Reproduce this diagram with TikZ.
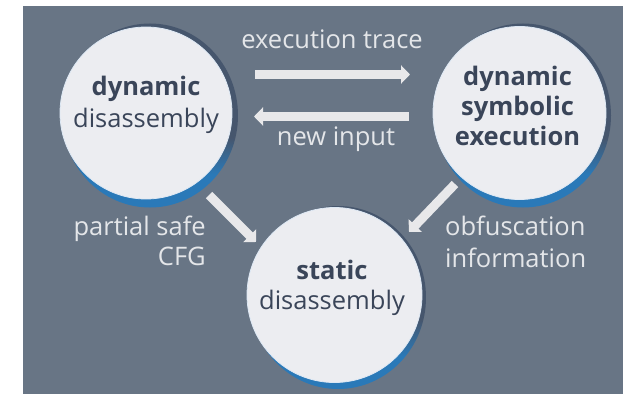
\documentclass[tikz,border=0pt]{standalone}
\usepackage{fontspec}
\setmainfont{Open Sans}
\usetikzlibrary{arrows.meta}
\definecolor{bg}{HTML}{687585}
\definecolor{disc}{HTML}{ECEDF1}
\definecolor{rim}{HTML}{DDE8F4}
\definecolor{ink}{HTML}{3A4559}
\definecolor{lbl}{HTML}{E4E6E9}
\definecolor{arr}{HTML}{E8E8EA}
\definecolor{sdark}{HTML}{46566D}
\definecolor{sblue}{HTML}{2A79B8}
\pgfdeclareverticalshading{shadowshade}{100bp}{color(0bp)=(sblue); color(34bp)=(sblue); color(44bp)=(sdark); color(100bp)=(sdark)}
\tikzset{
  disk/.style={circle, fill=disc, draw=rim, line width=0.8pt, minimum size=#1, inner sep=0pt},
  intext/.style={text=ink, font=\fontsize{25.5}{30}\selectfont, anchor=base, inner sep=0pt},
  boldtext/.style={intext, font=\fontsize{25.5}{30}\selectfont\bfseries},
  labeltext/.style={text=lbl, font=\fontsize{25.5}{30}\selectfont, inner sep=0pt},
  flow/.style={draw=arr, line width=9pt, -{Triangle[width=18pt,length=9pt]}},
  shadowdisk/.style={shading=shadowshade}
}
\begin{document}
\begin{tikzpicture}[x=1pt,y=1pt]
\useasboundingbox (0,0) rectangle (623,394);
\fill[white] (0,0) rectangle (623,394);
\fill[bg] (23,0) rectangle (623,387.5);

% shadows
\shade[shadowdisk] (150,278.5) ellipse [x radius=88, y radius=92];
\shade[shadowdisk] (523,278.5) ellipse [x radius=88, y radius=92];
\shade[shadowdisk] (338,96.5) ellipse [x radius=88, y radius=91.5];

% circles
\node[disk=172pt] (dd) at (146,281) {};
\node[disk=173pt] (dse) at (519.5,281) {};
\node[disk=175pt] (sd) at (334.5,99) {};

% circle texts
\node[boldtext] (dd1) at (146,298) {dynamic};
\node[intext] (dd2) at (146,266) {disassembly};
\node[boldtext] (dse1) at (517.5,308) {dynamic};
\node[boldtext] (dse2) at (517.5,278) {symbolic};
\node[boldtext] (dse3) at (517.5,248) {execution};
\node[boldtext] (sd1) at (332,115) {static};
\node[intext] (sd2) at (332,85) {disassembly};

% arrow end points
\coordinate (t1) at (255,319.5);
\coordinate (t2) at (410,319.5);
\coordinate (b1) at (409,277.5);
\coordinate (b2) at (254,277.5);
\coordinate (l1) at (209,199);
\coordinate (l2) at (256,152);
\coordinate (r1) at (455,210);
\coordinate (r2) at (409,162);

\draw[flow] (t1) -- (t2);
\draw[flow] (b1) -- (b2);
\draw[flow] (l1) -- (l2);
\draw[flow] (r1) -- (r2);

% labels
\node[labeltext, anchor=base] (et) at (332,345) {execution trace};
\node[labeltext, anchor=base] (ni) at (336,248) {new input};
\node[labeltext, anchor=base east] (ps1) at (206,159) {partial safe};
\node[labeltext, anchor=base east] (ps2) at (206,129) {CFG};
\node[labeltext, anchor=base west] (ob1) at (445,159) {obfuscation};
\node[labeltext, anchor=base west] (ob2) at (445,127) {information};
\end{tikzpicture}
\end{document}
